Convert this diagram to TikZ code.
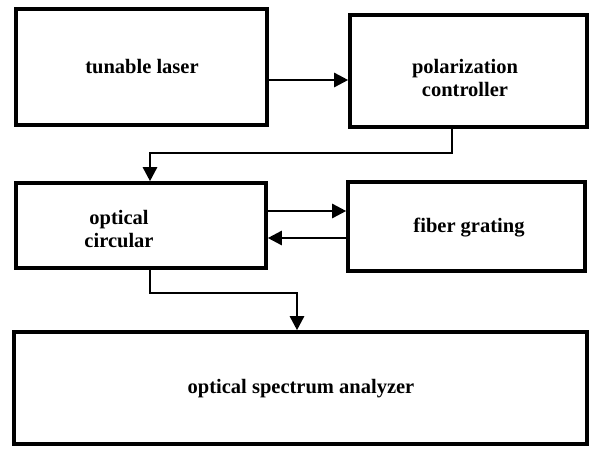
\documentclass[tikz,border=0pt]{standalone}
\usepackage{fontspec}
\setmainfont{Liberation Serif}
\usetikzlibrary{arrows.meta}
\tikzset{
  block/.style={draw, line width=3.6pt, rectangle, inner sep=0pt},
  lbl/.style={font=\bfseries\fontsize{20.5}{23}\selectfont, align=center, inner sep=0pt},
  arr/.style={line width=2.6pt, -{Triangle[length=14pt,width=14pt]}},
  wire/.style={line width=2.6pt}
}
\begin{document}
\begin{tikzpicture}[x=1pt,y=-1pt]
  \useasboundingbox (0,0) rectangle (597,448);

  % component boxes
  \node[block, minimum width=251pt, minimum height=116pt] (b1) at (141.5,67) {};
  \node[block, minimum width=237pt, minimum height=112pt] (b2) at (468.5,71) {};
  \node[block, minimum width=250pt, minimum height=85pt]  (b3) at (141,225.5) {};
  \node[block, minimum width=237pt, minimum height=89pt]  (b4) at (466.5,226.5) {};
  \node[block, minimum width=573pt, minimum height=112pt] (b5) at (300.5,388) {};

  % box texts
  \node[lbl] (t1) at (142,67) {tunable laser};
  \node[lbl] (t2) at (465,78) {polarization\\controller};
  \node[lbl] (t3) at (119,229) {optical\\circular};
  \node[lbl] (t4) at (469,228) {fiber grating};
  \node[lbl] (t5) at (301,389) {optical spectrum analyzer};

  % connectors
  \draw[arr] (b1.east |- 0,80) -- (b2.west |- 0,80);
  \draw[arr] (b2.south -| 452,0) -- (452,153) -- (150,153) -- (b3.north -| 150,0);
  \draw[arr] (b3.east |- 0,211) -- (b4.west |- 0,211);
  \draw[arr] (b4.west |- 0,238) -- (b3.east |- 0,238);
  \draw[arr] (b3.south -| 150,0) -- (150,293) -- (297,293) -- (b5.north -| 297,0);
\end{tikzpicture}
\end{document}
